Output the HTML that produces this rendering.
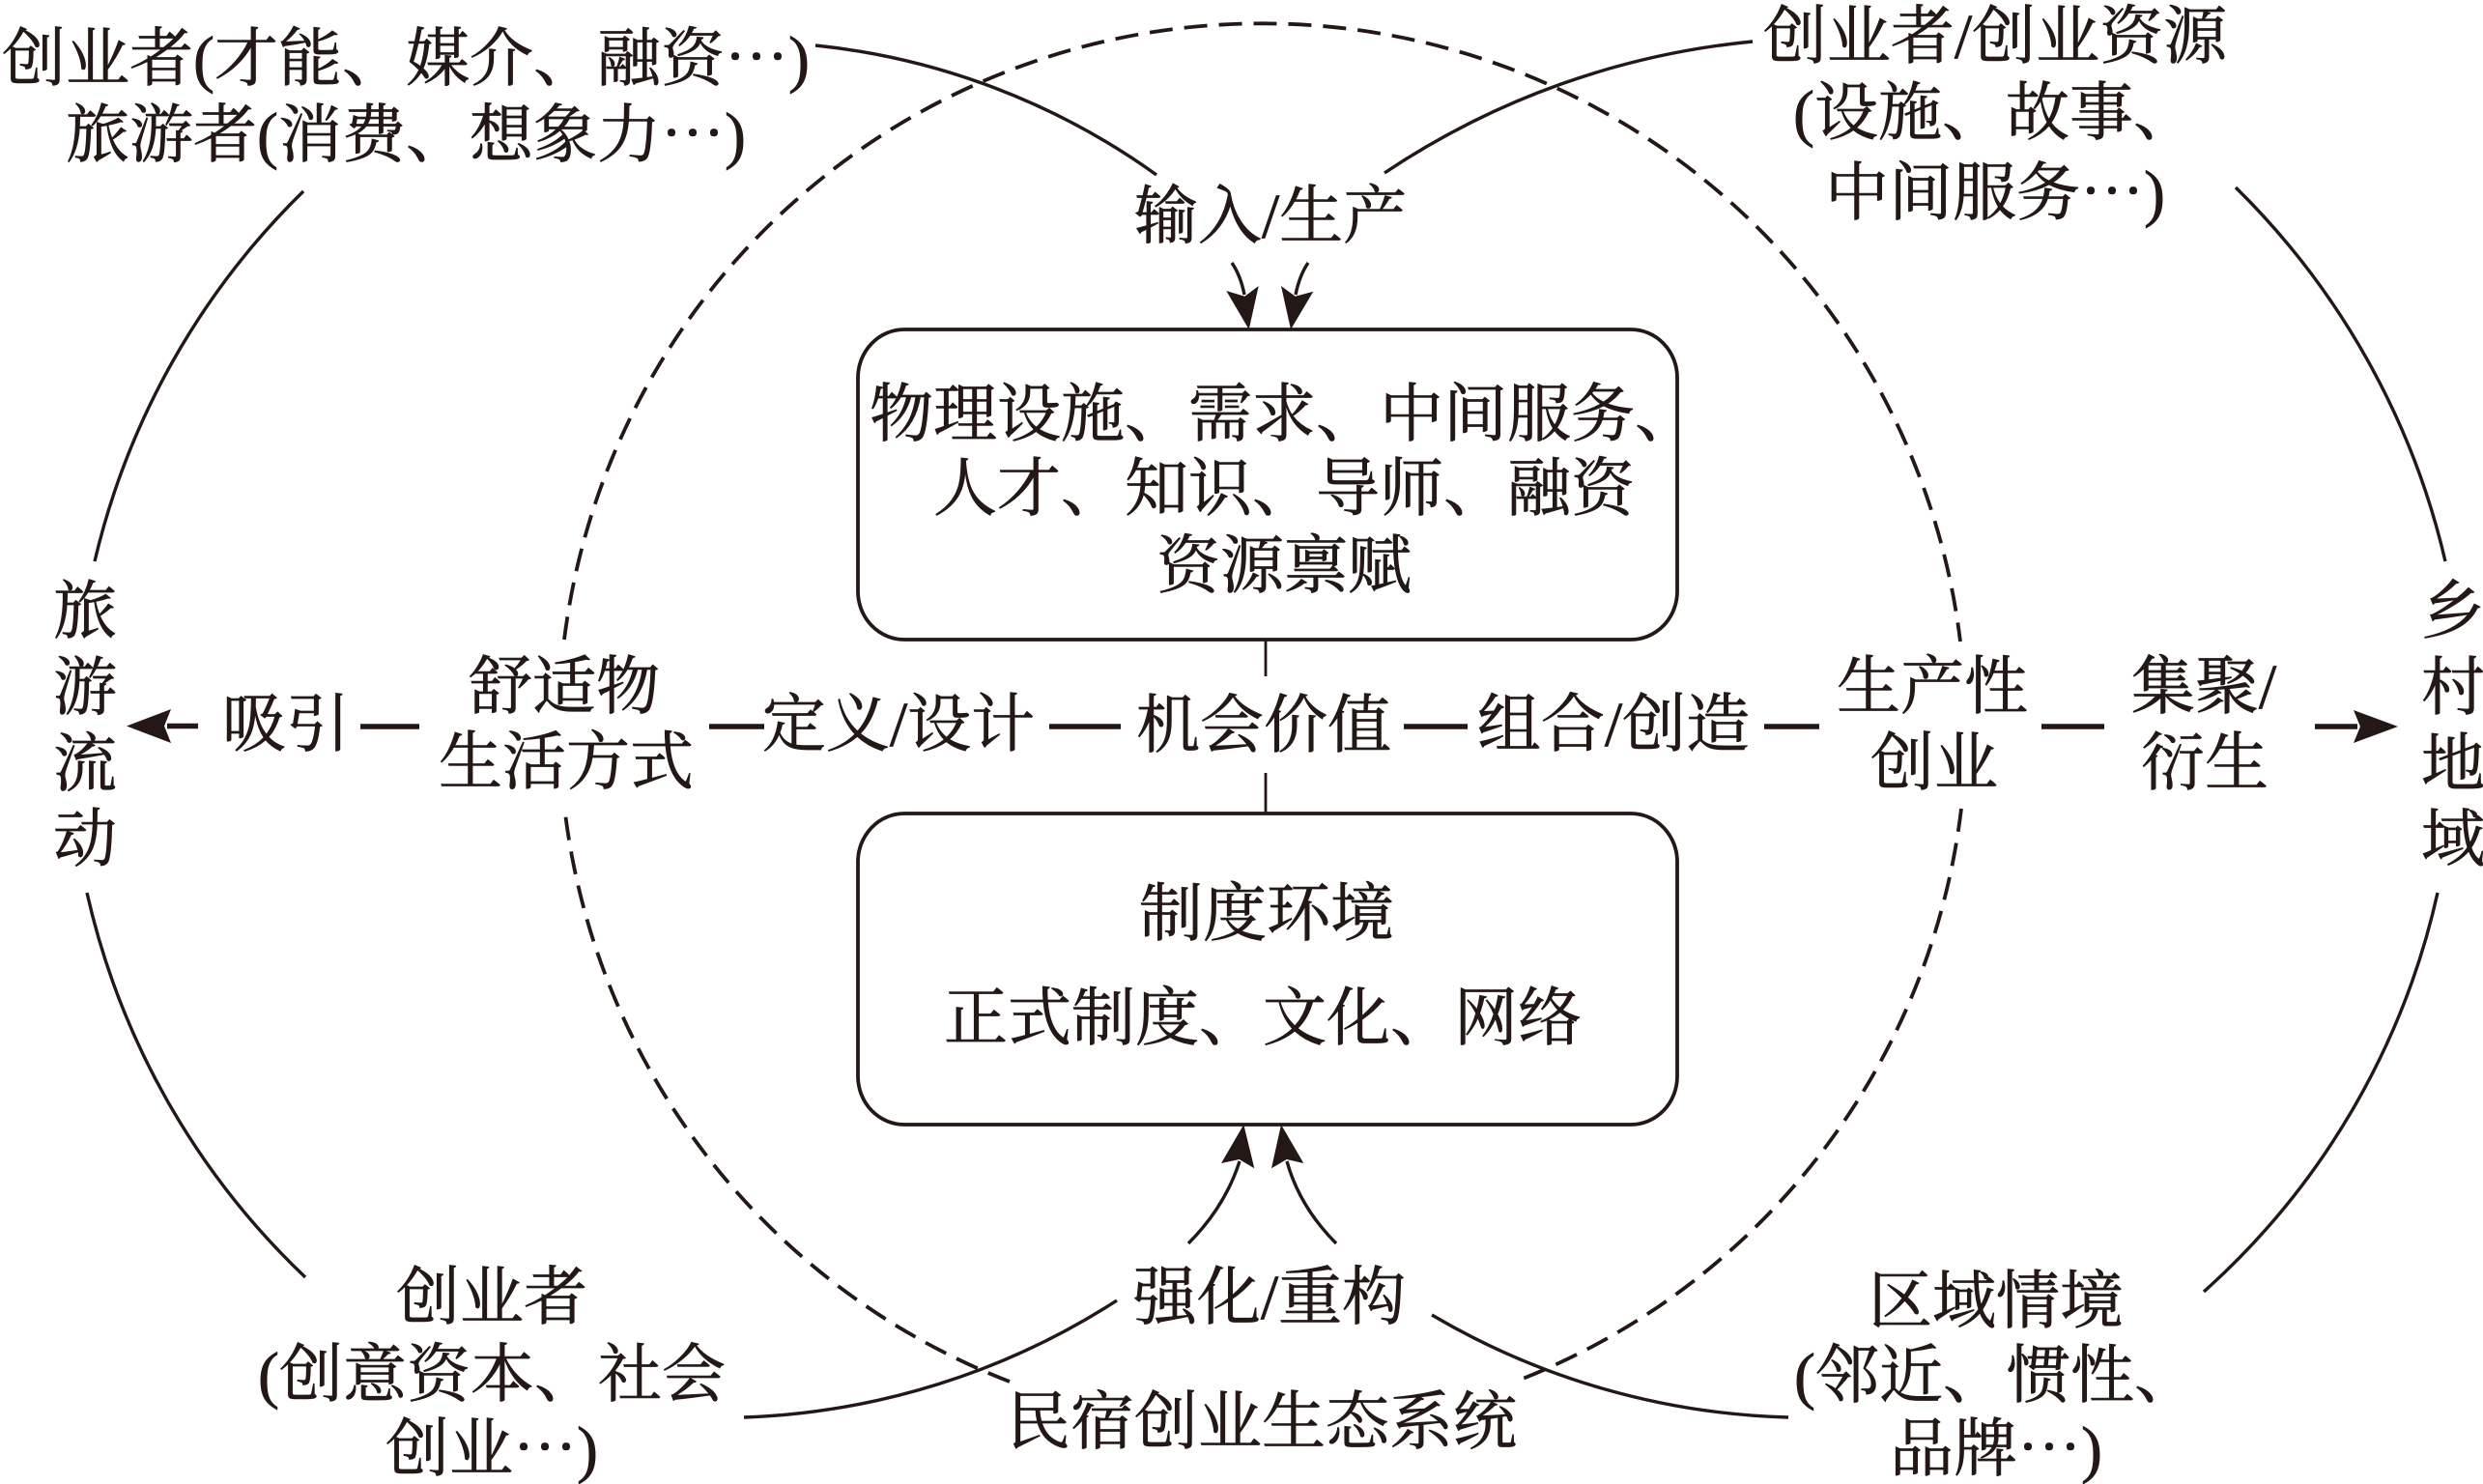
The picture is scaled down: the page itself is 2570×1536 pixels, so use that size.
<!DOCTYPE html>
<html>
<head>
<meta charset="utf-8">
<style>
  html, body { margin:0; padding:0; background:#ffffff; }
  body { width:2570px; height:1536px; overflow:hidden; }
  svg { display:block; }
  text { font-family: "Liberation Serif", "Noto Serif CJK SC", "Noto Sans CJK SC", serif; font-size:66px; fill:#231815; stroke:#231815; stroke-width:0.7px; }
</style>
</head>
<body>
<svg width="2570" height="1536" viewBox="0 0 2570 1536" xmlns="http://www.w3.org/2000/svg">
  <rect x="0" y="0" width="2570" height="1536" fill="#ffffff"/>

  <!-- dashed ecosystem circle (with gaps at labels) -->
  <g fill="none" stroke="#231815" stroke-width="3.8" stroke-dasharray="24 12">
    <path d="M584,662 A728,728 0 0 1 2029,664"/>
    <path d="M2030,837 A728,728 0 0 1 1576,1427"/>
    <path d="M1045,1430 A728,728 0 0 1 585,842"/>
  </g>

  <!-- solid curves -->
  <g fill="none" stroke="#231815" stroke-width="3.4">
    <path d="M314,198 A787,787 0 0 0 98,581"/>
    <path d="M90,924 A787,787 0 0 0 316,1322"/>
    <path d="M2314,194 A794,794 0 0 1 2531,581"/>
    <path d="M2523,924 A781,781 0 0 1 2281,1337"/>
    <path d="M844,47 A733,733 0 0 1 1197,181"/>
    <path d="M1814,43 A825,825 0 0 0 1433,179"/>
    <path d="M770,1467 A761,761 0 0 0 1156,1346"/>
    <path d="M1482,1361 A766,766 0 0 0 1851,1467"/>
    <path d="M1275,272 Q1284,285 1288,305"/>
    <path d="M1354,272 Q1345,285 1341,305"/>
    <path d="M1230,1287 Q1268,1249 1283,1202"/>
    <path d="M1383,1287 Q1345,1249 1332,1202"/>
  </g>

  <!-- arrowheads -->
  <g fill="#231815" stroke="none">
    <polygon points="1292.7,341 1269.3,301 1288.3,306.7 1302.7,296"/>
    <polygon points="1336,341 1326,296 1340.7,306.7 1359.3,301.7"/>
    <polygon points="1287.3,1164 1264,1204 1282.7,1200 1298.3,1209.3"/>
    <polygon points="1326,1164 1316,1209.3 1331.7,1200 1349.3,1204"/>
    <polygon points="131,751.5 177,734 170,751.5 177,769"/>
    <polygon points="2482,752 2436,735 2443,752 2436,769"/>
  </g>

  <!-- boxes -->
  <g fill="none" stroke="#231815" stroke-width="3.8">
    <rect x="888" y="341" width="848" height="321" rx="48" ry="50"/>
    <rect x="888" y="842" width="848" height="322" rx="48" ry="50"/>
  </g>

  <!-- connector lines -->
  <g stroke="#231815" fill="none">
    <line x1="1310" y1="663" x2="1310" y2="700" stroke-width="2.8"/>
    <line x1="1310" y1="800" x2="1310" y2="842" stroke-width="2.8"/>
    <line x1="173" y1="751.5" x2="205" y2="751.5" stroke-width="5.5"/>
    <line x1="373" y1="752" x2="434" y2="752" stroke-width="5.5"/>
    <line x1="734" y1="752" x2="791" y2="752" stroke-width="5.5"/>
    <line x1="1086" y1="752" x2="1160" y2="752" stroke-width="5.5"/>
    <line x1="1453" y1="752" x2="1519" y2="752" stroke-width="5.5"/>
    <line x1="1826" y1="752" x2="1883" y2="752" stroke-width="5.5"/>
    <line x1="2113" y1="752" x2="2178" y2="752" stroke-width="5.5"/>
    <line x1="2396" y1="752" x2="2440" y2="752" stroke-width="5.5"/>
  </g>

  <!-- texts -->
  <g text-anchor="middle">
    <text x="420" y="83">创业者(才能、媒介、融资⋯)</text>
    <text x="420" y="162">旅游者(消费、想象力⋯)</text>

    <text x="2065" y="60">创业者/创业资源</text>
    <text x="2065" y="139">(设施、故事、</text>
    <text x="2065" y="222">中间服务⋯)</text>

    <text x="1315" y="246">输入/生产</text>

    <text x="1329" y="451">物理设施、需求、中间服务、</text>
    <text x="1329" y="528">人才、知识、导师、融资</text>
    <text x="1329" y="608">资源禀赋</text>

    <text x="296" y="772">吸引</text>
    <text x="584" y="733">舒适物</text>
    <text x="586" y="811">生活方式</text>
    <text x="930" y="772">定义/设计</text>
    <text x="1308" y="773">机会价值</text>
    <text x="1670" y="772">组合/创造</text>
    <text x="2000" y="733">生产性</text>
    <text x="2002" y="812">创业</text>
    <text x="2281" y="733">集聚/</text>
    <text x="2282" y="812">衍生</text>

    <text x="88" y="655">旅</text>
    <text x="88" y="734">游</text>
    <text x="88" y="813">流</text>
    <text x="88" y="891">动</text>

    <text x="2539" y="655">乡</text>
    <text x="2539" y="734">村</text>
    <text x="2539" y="813">地</text>
    <text x="2539" y="891">域</text>

    <text x="1311" y="968">制度环境</text>
    <text x="1307" y="1076">正式制度、文化、网络</text>

    <text x="1314" y="1365">强化/重构</text>

    <text x="1306" y="1494">民宿创业生态系统</text>

    <text x="509" y="1365">创业者</text>
    <text x="509" y="1445">(创意资本、社会</text>
    <text x="509" y="1522">创业⋯)</text>

    <text x="2066" y="1369">区域情境</text>
    <text x="2066" y="1446">(邻近、惯性、</text>
    <text x="2066" y="1522">品牌⋯)</text>
  </g>
</svg>
</body>
</html>
